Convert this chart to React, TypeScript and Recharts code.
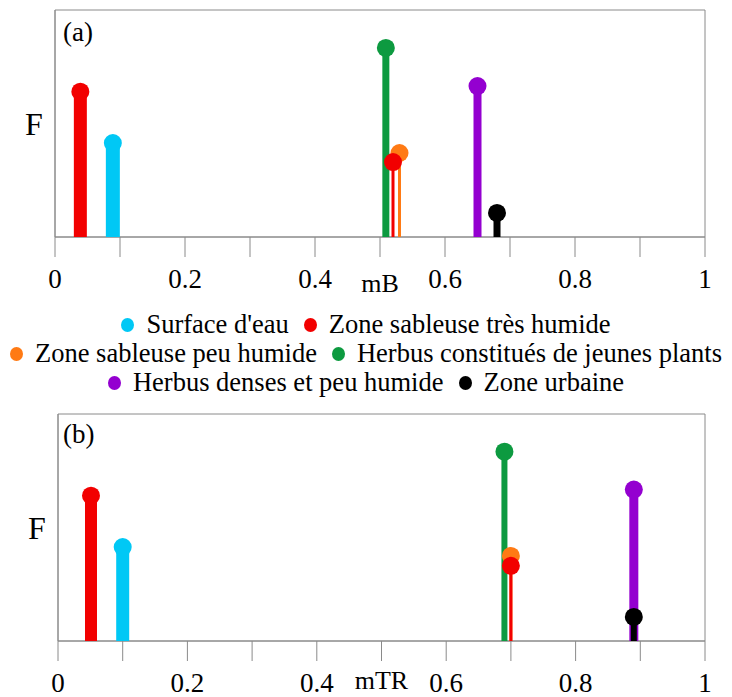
import { ComposedChart, Scatter, XAxis, YAxis, ReferenceArea } from 'recharts';

const FONT = '"Liberation Serif", "Times New Roman", serif';
const FRAME = '#8a8a8a';

// land cover classes (legend order)
const classNames = [
  "Surface d'eau",
  'Zone sableuse très humide',
  'Zone sableuse peu humide',
  'Herbus constitués de jeunes plants',
  'Herbus denses et peu humide',
  'Zone urbaine',
];
const classColors = ['#00c8f5', '#f20000', '#ff7a14', '#0d9a40', '#9400d0', '#000000'];

// stems, in drawing order: class index of each stem
const stemClass = [1, 0, 3, 2, 1, 4, 5];

// panel (a): mB position and F height
const mBValues = [0.039, 0.089, 0.509, 0.53, 0.52, 0.65, 0.68];
const fValuesA = [0.64, 0.414, 0.833, 0.37, 0.33, 0.665, 0.106];

// panel (b): mTR position and F height
const mTRValues = [0.051, 0.1, 0.69, 0.7, 0.7, 0.89, 0.89];
const fValuesB = [0.64, 0.414, 0.834, 0.375, 0.331, 0.667, 0.106];

// stem thickness per panel
const stemWidthA = [13, 14, 7, 3, 3, 8, 7];
const stemWidthB = [12, 13, 6, 3, 3, 9, 6];

const xTicks = [0, 0.1, 0.2, 0.3, 0.4, 0.5, 0.6, 0.7, 0.8, 0.9, 1];
const xTickLabels = ['0', '', '0.2', '', '0.4', '', '0.6', '', '0.8', '', '1'];

const legendRows = [[0, 1], [2, 3], [4, 5]];

interface PanelProps {
  tag: string;
  axisName: string;
  positions: number[];
  values: number[];
  widths: number[];
  height: number;
  yAxisWidth: number;
  xAxisHeight: number;
  nameOffset: number;
  fOffset: number;
  tagDx: number;
  tagDy: number;
}

function StemPanel({ tag, axisName, positions, values, widths, height, yAxisWidth, xAxisHeight, nameOffset, fOffset, tagDx, tagDy }: PanelProps) {
  return (
    <ComposedChart width={732} height={height} margin={{ top: 10, right: 27, left: 0, bottom: 0 }}>
      <XAxis
        type="number"
        dataKey="x"
        domain={[0, 1]}
        ticks={xTicks}
        interval={0}
        tickFormatter={(v: number) => xTickLabels[xTicks.indexOf(v)] ?? ''}
        tickSize={20}
        tickMargin={12}
        height={xAxisHeight}
        axisLine={{ stroke: FRAME }}
        tickLine={{ stroke: FRAME }}
        tick={{ fill: '#000', fontSize: 27, fontFamily: FONT }}
        label={{ value: axisName, position: 'insideBottom', offset: nameOffset, fill: '#000', fontSize: 26, fontFamily: FONT }}
      />
      <YAxis
        type="number"
        dataKey="y"
        domain={[0, 1]}
        width={yAxisWidth}
        tick={false}
        tickLine={false}
        axisLine={{ stroke: FRAME }}
        label={{ value: 'F', position: 'insideLeft', offset: fOffset, fill: '#000', fontSize: 32, fontFamily: FONT }}
      />
      <ReferenceArea
        x1={0}
        x2={1}
        y1={0}
        y2={1}
        fill="none"
        stroke={FRAME}
        strokeWidth={1}
        label={(props: any) => (
          <text
            x={props.viewBox.x + tagDx}
            y={props.viewBox.y + tagDy}
            fontSize={27}
            fontFamily={FONT}
            fill="#000"
          >
            {tag}
          </text>
        )}
      />
      {stemClass.map((c, i) => {
        const color = classColors[c];
        return (
          <Scatter
            key={i}
            data={[{ x: positions[i], y: 0 }, { x: positions[i], y: values[i] }]}
            line={{ stroke: color, strokeWidth: widths[i] }}
            isAnimationActive={false}
            shape={(p: any) =>
              p.payload && p.payload.y > 0 ? <circle cx={p.cx} cy={p.cy} r={9} fill={color} /> : <g />
            }
          />
        );
      })}
    </ComposedChart>
  );
}

export default function App() {
  return (
    <div style={{ position: 'absolute', left: 0, top: 0, width: 732, height: 697, background: '#fff' }}>
      <div style={{ position: 'absolute', left: 0, top: 0 }}>
        <StemPanel
          tag="(a)"
          axisName="mB"
          positions={mBValues}
          values={fValuesA}
          widths={stemWidthA}
          height={300}
          yAxisWidth={55}
          xAxisHeight={63}
          nameOffset={8}
          fOffset={25}
          tagDx={8}
          tagDy={31}
        />
      </div>
      <div
        style={{
          position: 'absolute',
          left: 0,
          top: 310,
          width: 732,
          fontFamily: FONT,
          fontSize: 26.5,
          lineHeight: '29px',
          color: '#000',
        }}
      >
        {legendRows.map((row, r) => (
          <div key={r} style={{ display: 'flex', justifyContent: 'center', gap: 15, whiteSpace: 'nowrap' }}>
            {row.map((c) => (
              <span key={c} style={{ display: 'inline-flex', alignItems: 'center' }}>
                <span
                  style={{
                    display: 'inline-block',
                    width: 13,
                    height: 14,
                    borderRadius: '50%',
                    background: classColors[c],
                    marginRight: 12,
                  }}
                />
                {classNames[c]}
              </span>
            ))}
          </div>
        ))}
      </div>
      <div style={{ position: 'absolute', left: 0, top: 404 }}>
        <StemPanel
          tag="(b)"
          axisName="mTR"
          positions={mTRValues}
          values={fValuesB}
          widths={stemWidthB}
          height={293}
          yAxisWidth={58}
          xAxisHeight={56}
          nameOffset={8}
          fOffset={28}
          tagDx={5}
          tagDy={29}
        />
      </div>
    </div>
  );
}
